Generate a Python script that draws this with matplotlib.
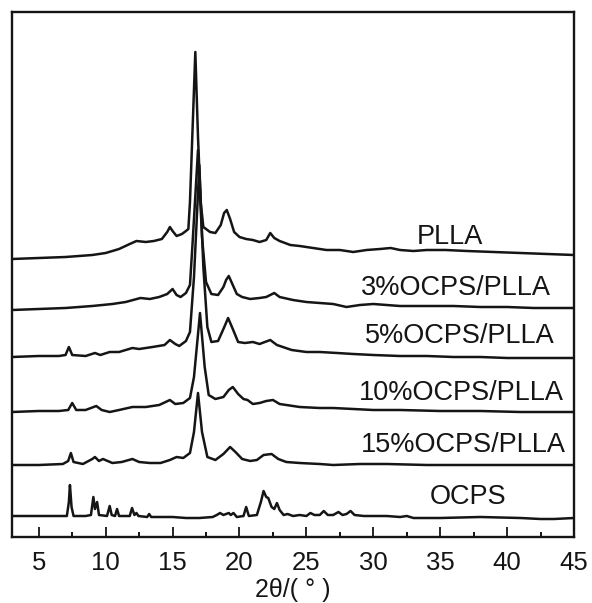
import matplotlib
matplotlib.use("Agg")
import matplotlib.pyplot as plt
from matplotlib.ticker import MultipleLocator

plt.rcParams['font.family'] = ['Liberation Sans', 'DejaVu Sans']

# ---- data (2theta in degrees, intensity in a.u. incl. stacking offset) ----
plla_x = [3, 5, 7, 9, 10, 11, 11.8, 12.3, 13, 13.6, 14.2, 14.6, 14.8, 15.0, 15.3, 15.7, 16.0, 16.18,
          16.3, 16.5, 16.7, 16.9, 17.1, 17.3, 17.8, 18.2, 18.6, 18.85, 19.05, 19.3, 19.6, 20.0, 20.5,
          21.0, 21.5, 22.0, 22.3, 22.6, 23.0, 23.8, 24.5, 25.5, 26.5, 27.5, 28.5, 29.5, 30.5, 31.3,
          32.0, 33, 34, 35.4, 37, 39, 41, 43, 45]
plla_y = [278, 279, 280, 282, 284, 288, 293, 296, 295, 296, 298, 305, 310, 306, 301, 303, 306, 308,
          335, 410, 485, 400, 335, 310, 305, 304, 312, 324, 327, 318, 305, 300, 298,
          297, 295, 297, 304, 299, 296, 292, 291, 289, 287, 287, 285, 287, 288, 289,
          287, 286, 287, 287, 286, 285, 284, 283, 282]

p3_x = [3, 5, 7, 9, 10.5, 11.5, 12.6, 13.3, 14.0, 14.6, 15.0, 15.3, 15.6, 16.0, 16.3, 16.5, 16.9,
        17.2, 17.5, 17.9, 18.4, 18.8, 19.0, 19.2, 19.5, 19.8, 20.2, 20.8, 21.5, 22.0, 22.6, 23.0,
        24, 25, 26, 27, 28, 29, 30, 31, 32, 34, 36, 38, 40, 42, 45]
p3_y = [227, 228, 229, 231, 233, 235, 239, 238, 240, 243, 248, 242, 240, 244, 252, 295, 387,
        300, 255, 243, 242, 250, 257, 261, 252, 243, 240, 238, 239, 240, 244, 240,
        237, 235, 234, 233, 230, 232, 233, 232, 231, 231, 231, 230, 230, 229, 229]

p5_x = [3, 5, 6.5, 7.0, 7.25, 7.5, 8.5, 9.2, 9.6, 10.3, 11, 12, 12.5, 13.5, 14.4, 14.8, 15.2, 15.5,
        16.0, 16.3, 16.6, 17.0, 17.3, 17.6, 17.9, 18.4, 18.8, 19.15, 19.5, 19.9, 20.4, 21.0, 21.5,
        22.3, 22.8, 23.9, 25, 26, 27.3, 28.5, 30, 32, 34, 36, 38, 40, 42, 45]
p5_y = [180, 181, 181, 182, 190, 182, 181, 184, 182, 185, 185, 189, 188, 190, 192, 197, 193, 191,
        196, 205, 260, 372, 270, 210, 195, 196, 208, 219, 208, 195, 194, 195, 193,
        197, 192, 187, 185, 185, 184, 183, 182, 181, 181, 180, 180, 179, 179, 179]

p10_x = [3, 5, 6.5, 7.2, 7.5, 7.8, 8.5, 9.3, 9.7, 10.3, 11, 12, 13, 14, 14.8, 15.2, 15.8, 16.3,
         16.6, 17.05, 17.4, 17.7, 18.2, 18.8, 19.2, 19.5, 19.9, 20.3, 20.6, 21.0, 21.5, 22.0, 22.5,
         23.0, 24.5, 26, 27, 28.5, 30, 32, 35, 38, 41, 45]
p10_y = [125, 126, 126, 127, 134, 127, 127, 131, 127, 125, 127, 130, 130, 132, 137, 133, 134, 139,
         160, 224, 170, 142, 138, 140, 147, 150, 143, 138, 137, 133, 134, 136, 137,
         133, 130, 129, 129, 128, 127, 127, 126, 126, 125, 125]

p15_x = [3, 5, 6.8, 7.2, 7.4, 7.6, 8.3, 9.0, 9.2, 9.5, 9.8, 10.5, 11.2, 12.0, 12.5, 13.3, 14.1,
         14.8, 15.3, 15.8, 16.3, 16.6, 16.9, 17.2, 17.6, 18.2, 18.8, 19.3, 19.7, 20.2, 20.8, 21.3,
         21.8, 22.4, 22.9, 23.5, 24.5, 26, 27, 29, 31, 34, 37, 40, 45]
p15_y = [72, 72, 73, 76, 84, 75, 73, 78, 80, 76, 78, 74, 75, 78, 75, 74, 74,
         77, 80, 79, 84, 105, 144, 105, 80, 77, 83, 90, 85, 78, 76, 77,
         82, 83, 78, 75, 74, 73, 72, 73, 73, 72, 72, 72, 72]

ocps_x = [3, 5, 6.5, 7.1, 7.25, 7.33, 7.45, 7.6, 8.5, 8.9, 9.08, 9.2, 9.36, 9.5, 10.1, 10.3, 10.45,
          10.7, 10.85, 11.0, 11.8, 11.97, 12.15, 12.3, 12.45, 13.1, 13.25, 13.4, 14.5, 15, 16, 17,
          18, 18.3, 18.55, 18.8, 19.2, 19.35, 19.55, 19.8, 20.3, 20.5, 20.7, 21.3, 21.6, 21.8, 22.0,
          22.15, 22.4, 22.6, 22.8, 23.0, 23.3, 23.6, 24.0, 24.5, 25.0, 25.3, 25.6, 26.0, 26.3, 26.6,
          27.0, 27.4, 27.7, 28.0, 28.3, 28.6, 29.3, 30, 31, 32, 32.5, 33, 35, 38, 41, 42.5, 43.5, 45]
ocps_y = [21, 21, 21, 21, 35, 52, 30, 21, 21, 22, 40, 28, 35, 22, 21, 31, 22,
          21, 28, 21, 21, 29, 22, 24, 21, 20, 23, 20, 20, 20, 19, 19,
          20, 22, 24, 22, 24, 22, 24, 20, 21, 30, 21, 22, 35, 46, 40,
          39, 30, 28, 34, 27, 22, 23, 21, 22, 21, 24, 22, 22, 26, 22,
          22, 25, 22, 23, 26, 22, 21, 21, 21, 20, 21, 19, 19, 20, 19, 18, 18, 19]

series = [(plla_x, plla_y), (p3_x, p3_y), (p5_x, p5_y), (p10_x, p10_y), (p15_x, p15_y), (ocps_x, ocps_y)]
labels = ["PLLA", "3%OCPS/PLLA", "5%OCPS/PLLA", "10%OCPS/PLLA", "15%OCPS/PLLA", "OCPS"]
label_x = [35.7, 36.2, 36.5, 36.6, 36.7, 37.1]
label_y = [300, 249, 201, 144, 92, 40]
xticks = [5, 10, 15, 20, 25, 30, 35, 40, 45]

fig = plt.figure(figsize=(5.92, 6.03), dpi=100)
ax = fig.add_axes([12 / 592, 66 / 603, 562 / 592, 525 / 603])

col = "#151515"
for (x, y) in series:
    ax.plot(x, y, color=col, lw=1.8, solid_joinstyle='round')

for t, lx, ly in zip(labels, label_x, label_y):
    ax.text(lx, ly, t, ha='center', va='center', fontsize=19.5, color=col)

ax.set_xlim(3, 45)
ax.set_ylim(0, 525)
ax.set_xticks(xticks)
ax.xaxis.set_minor_locator(MultipleLocator(2.5))
ax.set_yticks([])
ax.tick_params(axis='x', which='major', direction='in', length=7, width=1.3, pad=10,
               labelsize=18.5, colors=col, top=False)
ax.tick_params(axis='x', which='minor', direction='in', length=3.5, width=1.3, top=False)
for s in ax.spines.values():
    s.set_linewidth(1.7)
    s.set_color(col)
ax.set_xlabel("2θ/( ° )", fontsize=18, color=col, labelpad=2)

fig.savefig("out.png", dpi=100)
